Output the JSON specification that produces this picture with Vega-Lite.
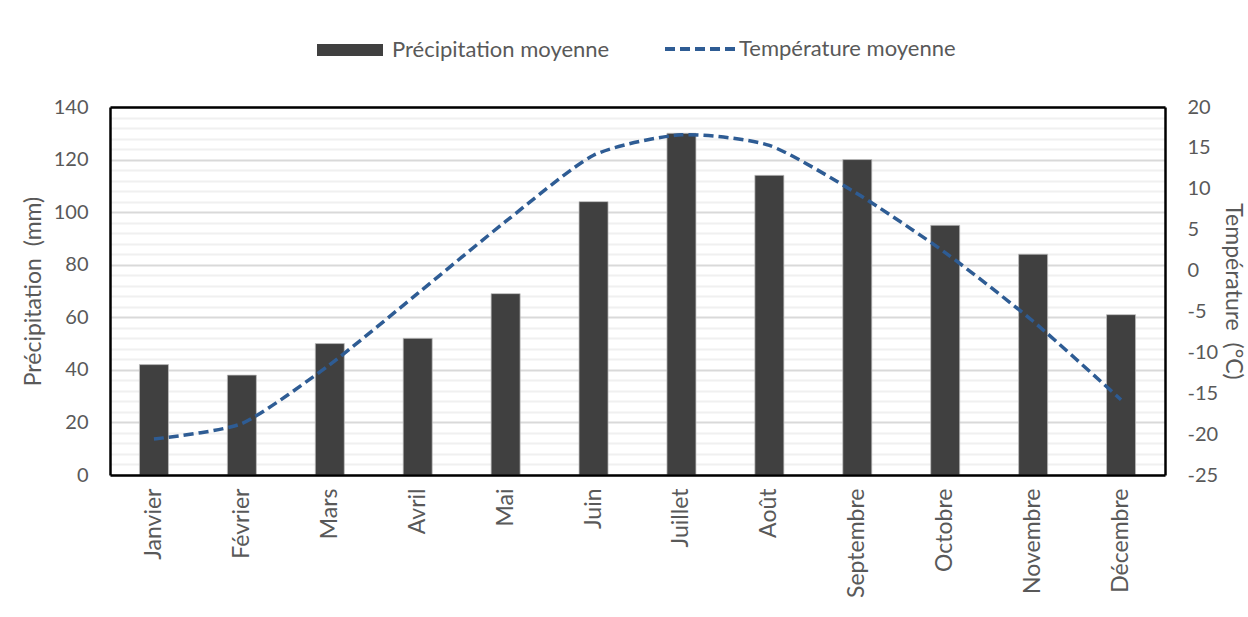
{
  "$schema": "https://vega.github.io/schema/vega-lite/v6.json",
  "width": 1055,
  "height": 368,
  "autosize": {"type": "none"},
  "padding": {"left": 110, "top": 107, "right": 83, "bottom": 142},
  "background": "white",
  "config": {
    "view": {"stroke": null},
    "font": "Lato",
    "axis": {
      "labelFont": "Lato", "labelFontSize": 20, "labelColor": "#595959",
      "titleFont": "Lato", "titleFontSize": 23, "titleColor": "#595959", "titleFontWeight": "normal",
      "domain": true, "domainColor": "#000000", "domainWidth": 2.5, "ticks": false
    },
    "legend": {"labelFont": "Lato", "labelFontSize": 22, "labelColor": "#595959"}
  },
  "data": {
    "values": [
      {"mois": "Janvier", "precip": 42, "temp": -20.6},
      {"mois": "Février", "precip": 38, "temp": -18.7},
      {"mois": "Mars", "precip": 50, "temp": -11.5},
      {"mois": "Avril", "precip": 52, "temp": -2.8},
      {"mois": "Mai", "precip": 69, "temp": 6.0},
      {"mois": "Juin", "precip": 104, "temp": 14.1},
      {"mois": "Juillet", "precip": 130, "temp": 16.6},
      {"mois": "Août", "precip": 114, "temp": 15.3},
      {"mois": "Septembre", "precip": 120, "temp": 9.4},
      {"mois": "Octobre", "precip": 95, "temp": 2.2},
      {"mois": "Novembre", "precip": 84, "temp": -6.2},
      {"mois": "Décembre", "precip": 61, "temp": -15.8}
    ]
  },
  "layer": [
    {
      "mark": {"type": "bar", "stroke": "#bfbfbf", "strokeWidth": 0.75},
      "encoding": {
        "x": {
          "field": "mois", "type": "nominal", "sort": null,
          "scale": {"paddingInner": 0.67, "paddingOuter": 0.335},
          "axis": {"title": null, "labelAngle": -90, "labelPadding": 13, "labelFontSize": 23, "grid": false, "zindex": 1}
        },
        "y": {
          "field": "precip", "type": "quantitative",
          "scale": {"domain": [0, 140], "nice": false},
          "axis": {
            "title": "Précipitation\u00a0 (mm)",
            "values": [0,4,8,12,16,20,24,28,32,36,40,44,48,52,56,60,64,68,72,76,80,84,88,92,96,100,104,108,112,116,120,124,128,132,136,140],
            "labelExpr": "datum.value % 20 === 0 ? datum.label : ''",
            "labelOverlap": false,
            "labelPadding": 22,
            "titlePadding": 8,
            "grid": true,
            "gridColor": {"condition": {"test": "datum.value % 20 === 0", "value": "#d9d9d9"}, "value": "#f0f0f0"},
            "gridWidth": 2,
            "zindex": 0
          }
        },
        "color": {
          "datum": "Précipitation moyenne",
          "type": "nominal",
          "scale": {"range": ["#404040"]},
          "legend": {
            "title": null,
            "orient": "none",
            "legendX": 207,
            "legendY": -90,
            "symbolSize": 4356,
            "symbolType": "M-1,-0.18H1V0.18H-1Z",
            "symbolStrokeWidth": 0,
            "labelOffset": 9,
            "labelLimit": 400
          }
        }
      }
    },
    {
      "mark": {"type": "line", "interpolate": "cardinal", "tension": 0.35, "color": "#2E5C94", "strokeWidth": 3.5, "strokeCap": "butt"},
      "encoding": {
        "x": {
          "field": "mois", "type": "nominal", "sort": null,
          "axis": {"orient": "top", "title": null, "labels": false, "grid": false, "zindex": 1}
        },
        "y": {
          "field": "temp", "type": "quantitative",
          "scale": {"domain": [-25, 20], "nice": false},
          "axis": {
            "title": "Température\u00a0 (°C)",
            "orient": "right",
            "values": [-25,-20,-15,-10,-5,0,5,10,15,20],
            "labelExpr": "'' + datum.value",
            "labelAlign": "left",
            "labelPadding": 22,
            "titlePadding": 3,
            "titleAngle": 90,
            "grid": false,
            "zindex": 1
          }
        },
        "strokeDash": {
          "datum": "Température moyenne",
          "type": "nominal",
          "scale": {"range": [[10, 5]]},
          "legend": {
            "title": null,
            "orient": "none",
            "legendX": 553,
            "legendY": -95,
            "symbolType": "stroke",
            "symbolSize": 4900,
            "symbolStrokeWidth": 4,
            "symbolStrokeColor": "#2E5C94",
            "labelOffset": 2,
            "labelLimit": 400
          }
        }
      }
    }
  ],
  "resolve": {"scale": {"y": "independent"}, "axis": {"y": "independent", "x": "independent"}}
}
